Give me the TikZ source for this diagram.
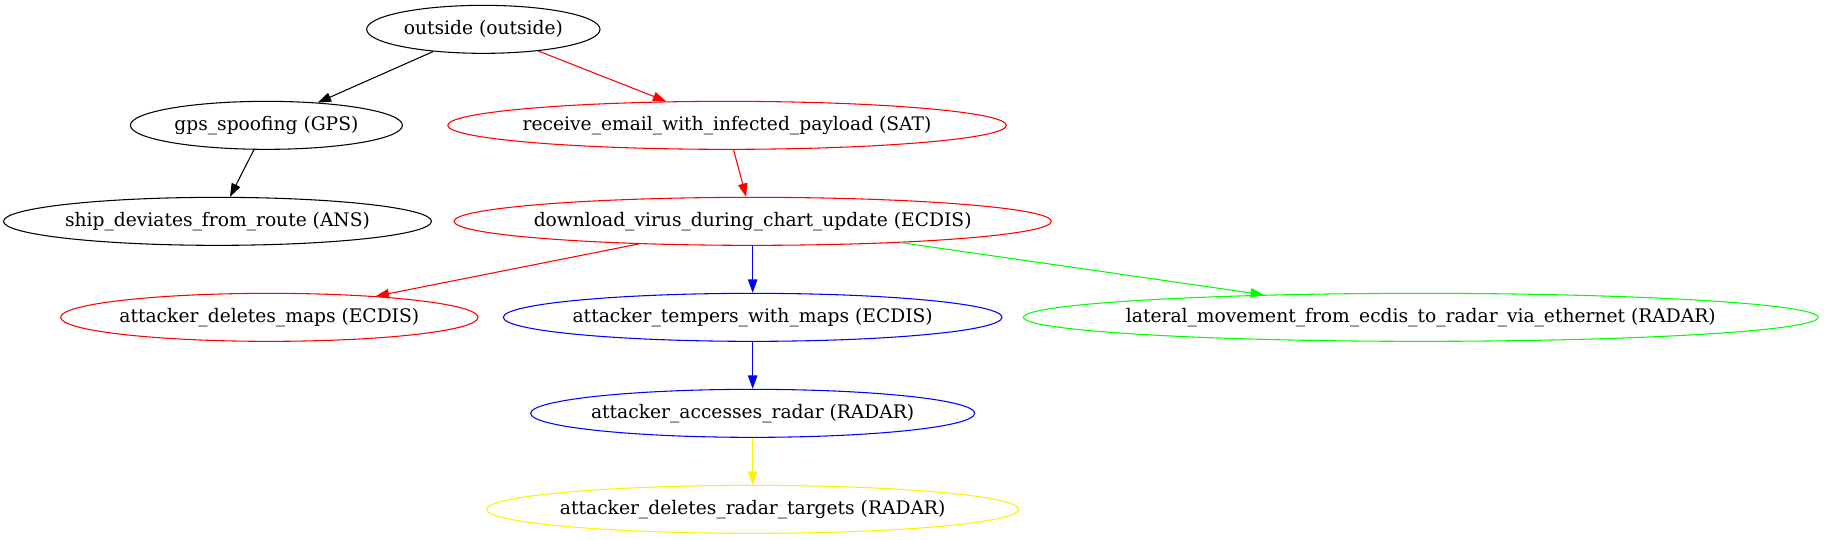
\documentclass[tikz,border=0pt]{standalone}
\usepackage{fontspec}
\setmainfont{DejaVu Serif}
\usetikzlibrary{shapes.geometric,arrows.meta}

\begin{document}
\begin{tikzpicture}[x=1pt, y=1pt,
  state/.style={draw, ellipse, line width=0.8pt, text=black, minimum height=36pt, inner sep=0pt,
    font=\fontsize{14}{17}\selectfont,
    execute at begin node={\hbox to 0pt\bgroup\hss}, execute at end node={\hss\egroup}},
  arrow/.style={-{Triangle[length=10pt, width=7pt]}, line width=0.8pt}
]
\useasboundingbox (0,0) rectangle (1368,-404.25);
% rank 1
\node[state, minimum width=175pt] (outside) at (362.5,-22) {outside (outside)};
% rank 2
\node[state, minimum width=204pt] (gps) at (199.8,-94) {gps\_spoofing (GPS)};
\node[state, draw=red, minimum width=419pt] (receive) at (545.3,-94) {receive\_email\_with\_infected\_payload (SAT)};
% rank 3
\node[state, minimum width=321pt] (ship) at (163.1,-166) {ship\_deviates\_from\_route (ANS)};
\node[state, draw=red, minimum width=448pt] (download) at (564.5,-166) {download\_virus\_during\_chart\_update (ECDIS)};
% rank 4
\node[state, draw=red, minimum width=313pt] (delmaps) at (202,-238) {attacker\_deletes\_maps (ECDIS)};
\node[state, draw=blue, minimum width=374pt] (tempers) at (564.5,-238) {attacker\_tempers\_with\_maps (ECDIS)};
\node[state, draw=green, minimum width=596pt] (lateral) at (1065.6,-238) {lateral\_movement\_from\_ecdis\_to\_radar\_via\_ethernet (RADAR)};
% rank 5
\node[state, draw=blue, minimum width=333pt] (accesses) at (564.5,-310) {attacker\_accesses\_radar (RADAR)};
% rank 6
\node[state, draw=yellow, minimum width=399pt] (deltargets) at (564.5,-382) {attacker\_deletes\_radar\_targets (RADAR)};

\draw[arrow] (outside) -- (gps);
\draw[arrow, red] (outside) -- (receive);
\draw[arrow] (gps) -- (ship);
\draw[arrow, red] (receive) -- (download);
\draw[arrow, red] (download) -- (delmaps);
\draw[arrow, blue] (download) -- (tempers);
\draw[arrow, green] (download) -- (lateral);
\draw[arrow, blue] (tempers) -- (accesses);
\draw[arrow, yellow] (accesses) -- (deltargets);
\end{tikzpicture}
\end{document}
